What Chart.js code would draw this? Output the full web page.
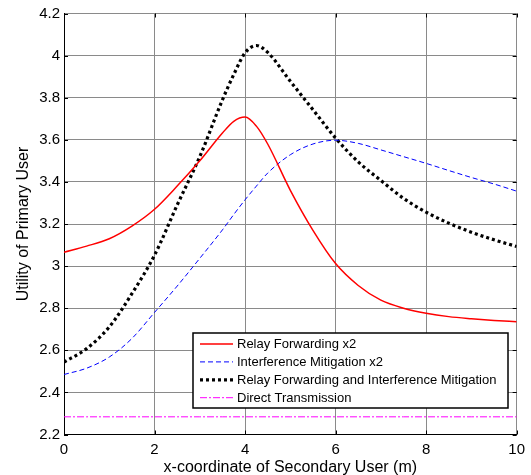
<!DOCTYPE html>
<html>
<head>
<meta charset="utf-8">
<script src="https://cdn.jsdelivr.net/npm/chart.js@4.4.1/dist/chart.umd.min.js"></script>
<style>
  html, body { margin: 0; padding: 0; background: #fff; }
  canvas { display: block; }
</style>
</head>
<body>
<canvas id="utilityChart" width="531" height="475"></canvas>
<script>
// x-coordinate of the secondary user (m)
const xPos = [0, 0.5, 1, 1.5, 2, 2.5, 3, 3.5, 3.75, 4, 4.25, 4.5, 5, 5.5, 6, 6.5, 7, 7.5, 8, 8.5, 9, 9.5, 10];

// utility of the primary user for each scheme
const relayFwd = [3.066, 3.095, 3.13, 3.19, 3.27, 3.38, 3.50, 3.632, 3.688, 3.708, 3.665, 3.58, 3.36, 3.17, 3.012, 2.908, 2.838, 2.80, 2.776, 2.76, 2.75, 2.742, 2.736];
const interfMit = [2.485, 2.515, 2.568, 2.656, 2.78, 2.905, 3.037, 3.172, 3.245, 3.315, 3.38, 3.442, 3.529, 3.58, 3.598, 3.583, 3.552, 3.52, 3.488, 3.454, 3.421, 3.39, 3.356];
const combined = [2.544, 2.608, 2.711, 2.869, 3.052, 3.29, 3.52, 3.79, 3.91, 4.013, 4.048, 4.015, 3.878, 3.743, 3.608, 3.495, 3.407, 3.322, 3.256, 3.204, 3.161, 3.125, 3.093];
const direct = [2.284, 2.284, 2.284, 2.284, 2.284, 2.284, 2.284, 2.284, 2.284, 2.284, 2.284, 2.284, 2.284, 2.284, 2.284, 2.284, 2.284, 2.284, 2.284, 2.284, 2.284, 2.284, 2.284];

const seriesNames = [
  'Relay Forwarding x2',
  'Interference Mitigation x2',
  'Relay Forwarding and Interference Mitigation',
  'Direct Transmission'
];

const FONT = 'Liberation Sans, Arial, sans-serif';

function toPoints(ys) {
  return xPos.map((x, i) => ({ x: x, y: ys[i] }));
}

function lineSet(label, ys, color, width, dash) {
  return {
    label: label,
    data: toPoints(ys),
    borderColor: color,
    backgroundColor: color,
    borderWidth: width,
    borderDash: dash,
    borderCapStyle: 'butt',
    pointRadius: 0,
    cubicInterpolationMode: 'monotone',
    fill: false
  };
}

// MATLAB-style boxed legend inside the plot plus inward tick marks
const matlabDecor = {
  id: 'matlabDecor',
  afterDatasetsDraw(chart) {
    const ctx = chart.ctx;
    const area = chart.chartArea;
    const xs = chart.scales.x, ys = chart.scales.y;

    ctx.save();
    ctx.strokeStyle = '#000';
    ctx.lineWidth = 1;
    ctx.setLineDash([]);
    const tl = 4;
    ctx.beginPath();
    xs.ticks.forEach(t => {
      const px = Math.round(xs.getPixelForValue(t.value)) + 0.5;
      ctx.moveTo(px, area.bottom); ctx.lineTo(px, area.bottom - tl);
      ctx.moveTo(px, area.top); ctx.lineTo(px, area.top + tl);
    });
    ys.ticks.forEach(t => {
      const py = Math.round(ys.getPixelForValue(t.value)) + 0.5;
      ctx.moveTo(area.left, py); ctx.lineTo(area.left + tl, py);
      ctx.moveTo(area.right, py); ctx.lineTo(area.right - tl, py);
    });
    ctx.stroke();

    // legend box
    const box = { l: 193, t: 333, r: 508, b: 408 };
    ctx.fillStyle = '#fff';
    ctx.fillRect(box.l, box.t, box.r - box.l, box.b - box.t);
    ctx.lineWidth = 1.5;
    ctx.strokeRect(box.l, box.t, box.r - box.l, box.b - box.t);

    ctx.font = '13px ' + FONT;
    ctx.textBaseline = 'middle';
    ctx.textAlign = 'left';
    chart.data.datasets.forEach((ds, i) => {
      const y = 344 + i * 17.9;
      ctx.beginPath();
      ctx.strokeStyle = ds.borderColor;
      ctx.lineWidth = ds.borderWidth;
      ctx.setLineDash(ds.borderDash || []);
      ctx.moveTo(200, y);
      ctx.lineTo(233, y);
      ctx.stroke();
      ctx.setLineDash([]);
      ctx.fillStyle = '#000';
      ctx.fillText(ds.label, 237, y + 0.5);
    });
    ctx.restore();
  }
};

new Chart(document.getElementById('utilityChart'), {
  type: 'line',
  data: {
    datasets: [
      lineSet(seriesNames[0], relayFwd, '#ff0000', 1.5, []),
      lineSet(seriesNames[1], interfMit, '#0000ff', 1, [5, 3]),
      lineSet(seriesNames[2], combined, '#000000', 3.2, [3, 3]),
      lineSet(seriesNames[3], direct, '#ff00ff', 1, [7, 2, 2, 2])
    ]
  },
  options: {
    responsive: false,
    animation: false,
    layout: { padding: { top: 13.5, right: 10, left: 0, bottom: 0 } },
    plugins: {
      legend: { display: false },
      tooltip: { enabled: false }
    },
    scales: {
      x: {
        type: 'linear',
        min: 0,
        max: 10,
        afterFit: s => { s.height = 40.5; },
        ticks: {
          stepSize: 2,
          color: '#000',
          padding: 6,
          font: { family: FONT, size: 15 },
          maxRotation: 0
        },
        grid: { color: '#8a8a8a', lineWidth: 1, drawTicks: false },
        border: { display: true, color: '#000', width: 1 },
        title: {
          display: true,
          text: 'x-coordinate of Secondary User (m)',
          color: '#000',
          font: { family: FONT, size: 16 },
          padding: { top: 0, bottom: -2 }
        }
      },
      y: {
        type: 'linear',
        min: 2.2,
        max: 4.2,
        afterFit: s => { s.width = 64; },
        ticks: {
          stepSize: 0.2,
          color: '#000',
          padding: 4,
          font: { family: FONT, size: 15 },
          callback: v => String(Number(v.toFixed(1)))
        },
        grid: { color: '#8a8a8a', lineWidth: 1, drawTicks: false },
        border: { display: true, color: '#000', width: 1 },
        title: {
          display: true,
          text: 'Utility of Primary User',
          color: '#000',
          font: { family: FONT, size: 16 },
          padding: { top: 14, bottom: 0 }
        }
      }
    }
  },
  plugins: [matlabDecor]
});
</script>
</body>
</html>
